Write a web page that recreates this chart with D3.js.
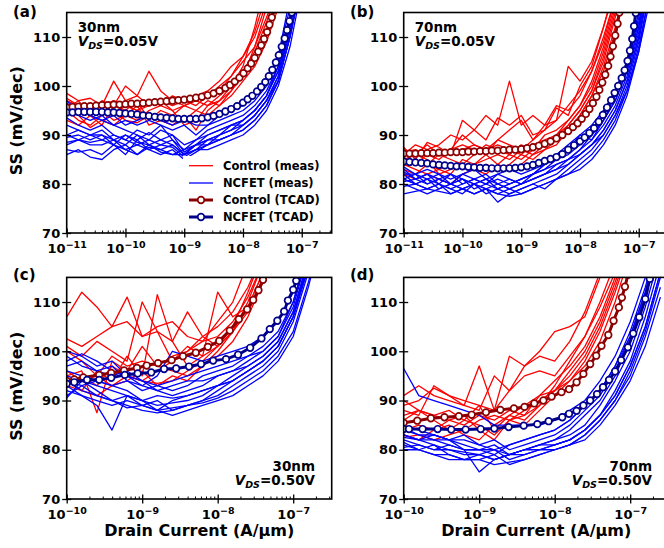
<!DOCTYPE html>
<meta charset="utf-8">
<style>
  body { margin: 0; background: #fff; }
  svg { display: block; font-family: "DejaVu Sans", sans-serif; font-weight: bold; }
  .meas { fill: none; stroke-width: 1.3; stroke-linejoin: round; }
  .tcad { fill: none; stroke-width: 3; }
  .tick text { font-size: 13px; font-family: "DejaVu Sans", sans-serif; font-weight: bold; fill: #000; }
  .tick line { stroke: #000; stroke-width: 1.3; }
</style>
<body></body>
<script src="https://cdn.jsdelivr.net/npm/d3@7"></script>
<script>

// x values are log10(drain current in A/um); SS in mV/dec

// (a) 30nm, Vds = 0.05V
var gridA = [-11, -10.8, -10.6, -10.4, -10.2, -10, -9.8, -9.6, -9.4, -9.2, -9, -8.8, -8.6, -8.4, -8.2, -8, -7.8, -7.6, -7.4, -7.2, -7];
var ctrlMeasA = [
  [98.5, 97, 97.5, 96, 101, 97, 98, 96, 97, 96, 97, 98, 99, 101, 104, 106, 110, 117],
  [97, 96, 95, 97, 96, 100, 98, 103, 99, 97, 96, 97, 98, 100, 102, 105, 108, 114, 120],
  [96, 94, 91.5, 93, 92, 94, 93, 95, 96, 95, 92, 93, 96, 97, 99, 103, 107, 113, 120],
  [95, 93, 92, 94, 95, 93, 92.5, 94, 93, 92, 94, 91, 95, 97, 100, 104, 112, 122],
  [94, 95, 96, 95, 94, 96, 95, 97, 96, 98, 97, 96, 98, 99, 102, 106, 111, 119],
  [93, 92, 94, 92, 96, 95, 97, 93, 95, 94, 96, 95, 94, 96, 98, 101, 104, 109, 116],
  [97.5, 96, 95.5, 96, 97, 96, 95, 96, 97, 95, 96, 97, 96, 98, 100, 103, 106, 111, 118],
  [95.5, 97, 94, 95, 93, 94, 96, 92, 93, 94, 93, 95, 97, 96, 99, 102, 108, 116]
];
var ncMeasA = [
  [97, 95, 94, 93, 92, 93, 92, 93, 92, 91, 92, 90, 92, 93, 94, 95, 97, 100, 106, 118],
  [96, 94, 93, 94, 92, 91, 90, 89, 91, 90, 88, 89, 91, 92, 93, 94, 96, 99, 104, 114, 125],
  [93.5, 92, 91, 92, 90, 89, 91, 90, 92, 89, 87, 89, 90, 91, 92, 93, 95, 98, 103, 112, 124],
  [92, 91, 90, 90, 89, 88, 90, 88, 89, 88, 86, 88, 89, 90, 91, 92, 94, 97, 102, 111, 122],
  [90, 91, 90, 89, 90, 89, 88, 89, 88, 87.5, 85.5, 87, 89, 90, 91, 93, 95, 98, 104, 113, 125],
  [89.5, 90, 89, 90, 88, 90, 88.5, 88, 87, 88, 86, 87, 88, 89, 90, 91, 93, 96, 101, 110, 122],
  [88, 89, 88, 88, 89, 87, 88, 87, 86, 87, 85, 86.5, 88, 89, 90, 91, 93, 96, 101, 110, 121],
  [86, 87, 85.5, 85, 87, 88, 86, 88, 86.5, 86, 86, 87, 87, 88, 89, 90, 92, 95, 100, 108, 120],
  [90, 89, 88.5, 89, 88, 86, 89, 87, 88, 89, 86, 88, 88, 90, 92, 92, 94, 97, 102, 112, 124],
  [96.5, 95, 94, 93, 94, 92, 93, 94, 93, 92, 93, 92, 92, 94, 95, 96, 98, 101, 106, 116],
  [88.5, 89, 90, 91, 89, 90, 89, 90.5, 89, 90, 86.5, 88, 90, 91, 92, 93, 95, 98, 103, 113, 126],
  [87, 86.5, 87, 86, 88, 87, 86, 87.5, 87, 86, 87, 88, 89, 89, 90, 92, 94, 97, 101, 110, 122]
];
var ctrlTcadA = [[-11, 95.6], [-10.9, 95.7], [-10.8, 95.8], [-10.7, 95.9], [-10.6, 95.9], [-10.5, 96], [-10.4, 96.1], [-10.3, 96.1], [-10.2, 96.2], [-10.1, 96.2], [-10, 96.3], [-9.9, 96.4], [-9.8, 96.4], [-9.7, 96.5], [-9.6, 96.6], [-9.5, 96.7], [-9.4, 96.8], [-9.3, 96.9], [-9.2, 97], [-9.1, 97.1], [-9, 97.2], [-8.9, 97.4], [-8.8, 97.6], [-8.7, 97.8], [-8.6, 98.1], [-8.5, 98.5], [-8.4, 99], [-8.3, 99.6], [-8.22, 100.2], [-8.14, 100.9], [-8.06, 101.7], [-7.99, 102.6], [-7.92, 103.6], [-7.86, 104.6], [-7.8, 105.7], [-7.74, 107], [-7.69, 108.3], [-7.64, 109.6], [-7.59, 111], [-7.55, 112.5], [-7.51, 114], [-7.47, 115.6]];
var ncTcadA = [[-11, 94.6], [-10.9, 94.6], [-10.8, 94.7], [-10.7, 94.7], [-10.6, 94.7], [-10.5, 94.7], [-10.4, 94.7], [-10.3, 94.6], [-10.2, 94.6], [-10.1, 94.5], [-10, 94.4], [-9.9, 94.3], [-9.8, 94.2], [-9.7, 94], [-9.6, 93.9], [-9.5, 93.7], [-9.4, 93.6], [-9.3, 93.5], [-9.2, 93.4], [-9.1, 93.3], [-9, 93.3], [-8.9, 93.3], [-8.8, 93.3], [-8.7, 93.4], [-8.6, 93.6], [-8.5, 93.9], [-8.4, 94.3], [-8.3, 94.8], [-8.2, 95.3], [-8.1, 95.9], [-8, 96.6], [-7.92, 97.3], [-7.84, 98], [-7.76, 98.9], [-7.69, 99.8], [-7.62, 100.8], [-7.56, 102], [-7.5, 103.3], [-7.44, 104.8], [-7.39, 106.3], [-7.34, 108], [-7.29, 109.7], [-7.25, 111.4], [-7.21, 113.2], [-7.17, 115], [-7.13, 116.8]];

// (b) 70nm, Vds = 0.05V
var gridB = [-11, -10.8, -10.6, -10.4, -10.2, -10, -9.8, -9.6, -9.4, -9.2, -9, -8.8, -8.6, -8.4, -8.2, -8, -7.8, -7.6, -7.4, -7.2, -7, -6.8];
var ctrlMeasB = [
  [87.5, 85, 88.5, 87.5, 86, 93, 91, 89, 93.5, 92, 94, 90, 91, 95.5, 94, 100, 104, 112, 120],
  [86, 88, 87, 88, 90, 89, 91, 94, 92, 101, 92, 94, 92, 96, 95, 98, 103, 110, 118],
  [85, 84, 86, 85, 87, 90, 88, 87, 89, 91, 93, 89, 92, 93, 104, 101, 105, 112, 121],
  [84, 85, 84, 86, 85, 84, 86, 88, 87, 86, 88, 87, 90, 91, 93, 96, 100, 107, 116],
  [83, 82, 84, 83, 82, 85, 84, 85, 86, 85, 87, 86, 88, 89, 92, 95, 99, 106, 115, 124],
  [86.5, 87, 86, 87, 86, 87, 88, 87, 88, 87, 86, 88, 89, 90, 92, 95, 99, 105, 114, 123],
  [85, 86, 85, 82, 83, 84, 83, 82, 84, 86, 85, 87, 88, 90, 93, 96, 101, 108, 117],
  [84, 83, 82, 83, 84, 83, 84, 86, 84, 83, 84, 86, 87, 88, 91, 94, 98, 104, 112, 122],
  [87, 86, 88, 86, 87, 88, 87, 86, 89, 88, 87, 89, 91, 93, 96, 99, 103, 109, 118],
  [82, 81, 82, 81, 80, 82, 83, 84, 83, 84, 86, 85, 87, 89, 91, 94, 98, 103, 111, 121]
];
var ncMeasB = [
  [83, 81, 82, 80, 82, 81, 80, 81, 80, 79, 80, 81, 82, 83, 84, 86, 88, 91, 95, 101, 110, 122],
  [82, 82, 81, 82, 80, 82, 81, 80, 82, 81, 80, 82, 83, 85, 87, 89, 91, 94, 98, 104, 113, 125],
  [78, 78.5, 79, 78.5, 78, 79, 78, 79, 78, 79, 78, 79, 80, 81, 82, 83, 85, 88, 92, 98, 107, 120],
  [81, 80, 79, 80, 79, 78, 80, 78, 79, 78, 79, 80, 79, 81, 83, 85, 87, 90, 94, 100, 109, 122],
  [83.5, 82, 83, 82, 81, 82, 83, 81, 82, 83, 82, 83, 84, 85, 86, 88, 90, 93, 97, 103, 112, 124],
  [80.5, 81, 80, 81, 80, 79, 80, 79, 76.3, 78, 79, 80, 81, 82, 84, 86, 88, 91, 95, 101, 110, 123],
  [82, 80, 81, 79, 80, 81, 79, 80, 79, 80, 81, 82, 84, 86, 88, 90, 92, 95, 99, 105, 115, 126],
  [81, 82, 80, 81, 82, 80, 81, 82, 80, 81, 80, 81, 82, 83, 85, 87, 89, 92, 96, 102, 111, 124],
  [79.5, 80, 79, 80, 78, 79, 80, 79, 78, 77.5, 78, 79, 80, 81, 82, 84, 86, 89, 93, 99, 108, 120],
  [82.5, 81, 82, 81, 80, 81, 80, 81, 79, 80, 81, 82, 83, 84, 85, 86, 88, 90, 94, 99, 107, 118],
  [80, 79, 78, 79, 80, 79, 78, 79, 80, 79, 80, 81, 82, 84, 85, 87, 90, 93, 98, 104, 114, 126],
  [81, 80, 81, 80, 79, 80, 81, 80, 81, 80, 81, 82, 84, 86, 87, 90, 89, 93, 97, 103, 112, 125]
];
var ctrlTcadB = [[-11, 86.2], [-10.9, 86.2], [-10.8, 86.2], [-10.7, 86.3], [-10.6, 86.3], [-10.5, 86.3], [-10.4, 86.4], [-10.3, 86.4], [-10.2, 86.5], [-10.1, 86.5], [-10, 86.5], [-9.9, 86.6], [-9.8, 86.6], [-9.7, 86.7], [-9.6, 86.7], [-9.5, 86.8], [-9.4, 86.8], [-9.3, 86.9], [-9.2, 87], [-9.1, 87], [-9, 87.1], [-8.9, 87.3], [-8.8, 87.5], [-8.7, 87.8], [-8.6, 88.2], [-8.5, 88.7], [-8.4, 89.3], [-8.3, 90], [-8.2, 90.8], [-8.12, 91.6], [-8.04, 92.4], [-7.97, 93.3], [-7.9, 94.3], [-7.84, 95.3], [-7.78, 96.5], [-7.72, 97.8], [-7.67, 99.2], [-7.62, 100.7], [-7.57, 102.3], [-7.52, 104.1], [-7.48, 106], [-7.44, 108.1], [-7.4, 110.3], [-7.36, 112.7], [-7.33, 115], [-7.3, 117.4]];
var ncTcadB = [[-11, 84.6], [-10.9, 84.5], [-10.8, 84.4], [-10.7, 84.3], [-10.6, 84.2], [-10.5, 84], [-10.4, 83.9], [-10.3, 83.8], [-10.2, 83.7], [-10.1, 83.6], [-10, 83.6], [-9.9, 83.5], [-9.8, 83.4], [-9.7, 83.3], [-9.6, 83.3], [-9.5, 83.2], [-9.4, 83.2], [-9.3, 83.2], [-9.2, 83.2], [-9.1, 83.3], [-9, 83.4], [-8.9, 83.6], [-8.8, 83.9], [-8.7, 84.3], [-8.6, 84.7], [-8.5, 85.1], [-8.4, 85.5], [-8.3, 86.1], [-8.2, 87], [-8.1, 87.9], [-8, 88.7], [-7.92, 89.5], [-7.84, 90.4], [-7.76, 91.4], [-7.68, 92.7], [-7.61, 94.1], [-7.54, 95.6], [-7.47, 97.1], [-7.41, 98.6], [-7.35, 100], [-7.29, 101.6], [-7.24, 103.2], [-7.19, 105.1], [-7.15, 107.2], [-7.11, 109.6], [-7.08, 112.2], [-7.05, 114.9], [-7.02, 117.6]];

// (c) 30nm, Vds = 0.50V
var gridC = [-10, -9.8, -9.6, -9.4, -9.2, -9, -8.8, -8.6, -8.4, -8.2, -8, -7.8, -7.6, -7.4, -7.2, -7, -6.8, -6.6];
var ctrlMeasC = [
  [107, 112, 109, 105, 106, 103, 104, 102, 108, 103, 101, 104, 108, 114, 122],
  [102.5, 101, 103, 105, 111, 103, 105, 106, 103, 102, 106, 110, 118],
  [101, 99, 102, 100, 98, 110, 104, 98, 101, 99, 112, 107, 109, 116],
  [95, 96, 87.5, 98, 96, 101, 97, 99, 100, 103, 105, 108, 113, 120],
  [94, 92, 96, 94, 99, 95, 111.5, 102, 97, 99, 101, 104, 109, 116],
  [93, 95, 93, 97, 95, 94, 96, 98, 100, 102, 103, 106, 111, 118],
  [96, 94, 95, 99, 97, 98, 97, 96, 95, 97, 100, 104, 110, 118],
  [100, 98, 95, 93, 94, 96, 93, 95, 94, 97, 99, 102, 107, 114, 122],
  [93, 92, 91, 93, 95, 94, 93.5, 94, 96, 98, 101, 105, 112, 120]
];
var ncMeasC = [
  [100, 99, 97, 98, 95, 93, 95, 100, 99, 98, 99, 100, 101, 103, 106, 112, 122],
  [98, 99.5, 98, 96, 95, 94, 93, 92, 93, 95, 96, 97, 99, 101, 104, 110, 120],
  [97, 98, 96, 95, 96, 94, 92, 93, 94, 94, 95, 96, 97, 99, 102, 108, 118],
  [94, 92, 91, 90, 88.5, 89, 90, 88, 89, 90, 91, 93, 95, 97, 100, 106, 116],
  [93, 91, 89, 84, 91, 89, 88, 88.5, 89, 90, 92, 94, 96, 98, 101, 107, 117],
  [91, 93, 91, 90, 91, 90, 89, 89.5, 90, 91, 93, 95, 97, 99, 102, 108, 119],
  [94, 93, 94, 93, 92, 90, 88, 90, 91, 92, 93, 94, 96, 98, 101, 107, 118],
  [99, 97, 96, 97, 94, 92, 93, 94, 95, 96, 97, 98, 99, 100, 103, 109, 120],
  [90.5, 94, 92, 90, 89, 88, 87.5, 88, 89, 89.5, 90.5, 92, 94, 96, 99, 104, 114, 125],
  [95, 94, 93, 92, 91, 90, 91, 90.5, 91, 92, 93, 94, 96, 98, 101, 107, 117],
  [96, 95, 94, 93, 94, 93, 92, 91, 92, 93, 95, 96, 98, 100, 103, 110, 121],
  [92, 91, 90, 89, 90, 89, 88, 87, 88, 89, 90, 91, 93, 95, 98, 103, 113, 125]
];
var ctrlTcadC = [[-10, 94], [-9.9, 94.3], [-9.78, 94.7], [-9.57, 95.2], [-9.41, 95.6], [-9.24, 96.1], [-9.07, 96.6], [-8.94, 97.1], [-8.79, 97.6], [-8.61, 98.2], [-8.46, 99], [-8.29, 99.7], [-8.13, 100.9], [-7.98, 102.1], [-7.84, 104.2], [-7.72, 106.5], [-7.61, 108.5], [-7.53, 110.4], [-7.46, 112.4], [-7.4, 114.5], [-7.35, 116.5]];
var ncTcadC = [[-10, 93.4], [-9.9, 93.7], [-9.73, 94.2], [-9.57, 94.2], [-9.41, 94.6], [-9.23, 95.2], [-9.06, 95.5], [-8.88, 95.7], [-8.71, 96.4], [-8.55, 96.5], [-8.38, 96.9], [-8.22, 97.4], [-8.06, 98.1], [-7.89, 98.4], [-7.73, 99.3], [-7.57, 100.7], [-7.42, 102.6], [-7.31, 104.5], [-7.21, 106.2], [-7.12, 108.1], [-7.07, 110.3], [-7, 112.5], [-6.96, 114.3], [-6.92, 116.5]];

// (d) 70nm, Vds = 0.50V
var gridD = [-10, -9.8, -9.6, -9.4, -9.2, -9, -8.8, -8.6, -8.4, -8.2, -8, -7.8, -7.6, -7.4, -7.2, -7, -6.8, -6.6];
var ctrlMeasD = [
  [91, 93, 91, 90, 89, 97, 88, 99, 97, 100, 104, 105, 107, 115, 122],
  [89, 90, 92.5, 91, 89, 88, 95, 92, 97, 99, 98, 102, 108, 116],
  [88, 87, 93, 91, 90, 89, 88, 92, 95, 96, 95, 99, 103, 110, 118],
  [87, 88, 87, 86, 85, 87, 86, 88, 87, 91, 94, 97, 101, 107, 115, 123],
  [86, 88, 86, 84, 86, 85, 83, 86, 88, 90, 92, 95, 99, 105, 113, 122],
  [84, 85, 84, 86, 87, 84, 82, 86, 85, 88, 91, 94, 98, 104, 112, 121],
  [82.5, 83, 82, 83, 84, 86, 87, 86, 87, 89, 92, 96, 100, 106, 114, 122],
  [90, 88, 87, 88, 86, 89, 84, 87, 86, 89, 93, 98, 103, 109, 116],
  [83, 82, 84, 85, 83, 82, 85, 87, 89, 91, 92, 94, 97, 102, 110, 120]
];
var ncMeasD = [
  [96.5, 91, 90, 89, 88, 87, 85, 85, 85, 85, 86, 88, 90, 94, 99, 106, 115, 126],
  [85, 84, 83, 82, 81, 80, 79, 81, 82, 83, 84, 86, 89, 92, 97, 104, 113, 124],
  [84, 83, 82, 82, 80, 75.5, 78, 79, 80, 81, 82, 84, 87, 90, 95, 102, 111, 122],
  [83, 82, 81, 80, 79.5, 79, 78, 79, 80, 81, 82, 83, 85, 89, 94, 100, 109, 120],
  [82, 81, 80, 80, 79, 79, 80, 78, 79, 80, 81, 82, 84, 87, 92, 98, 107, 118],
  [81, 80, 81, 79, 78, 78, 79, 77, 78, 79, 80, 81, 83, 86, 90, 96, 104, 115],
  [80.5, 81, 80, 81, 80, 80, 80, 79, 80, 81, 81, 82, 84, 87, 91, 97, 105, 116],
  [84.5, 83, 83, 82, 82, 81, 82, 80, 81, 82, 83, 85, 88, 91, 96, 103, 112, 124],
  [82.5, 82, 82, 81, 80, 80, 81, 79, 79, 80, 80, 81, 82, 85, 89, 94, 101, 111],
  [81.5, 80, 79, 79, 78, 78, 77, 77.5, 78, 79, 80, 81, 83, 86, 90, 95, 103, 113],
  [83, 82, 83, 82, 83, 81, 80, 81, 82, 83, 84, 86, 89, 92, 97, 103, 112, 123],
  [80, 80, 79, 78, 78, 79, 78, 79, 80, 80, 81, 82, 84, 87, 91, 97, 105, 116]
];
var ctrlTcadD = [[-10, 85.5], [-9.82, 85.9], [-9.64, 86.4], [-9.46, 86.6], [-9.27, 86.8], [-9.1, 87.1], [-8.91, 87.6], [-8.72, 88.1], [-8.54, 88.4], [-8.4, 88.7], [-8.27, 89.4], [-8.15, 90], [-8.04, 90.8], [-7.91, 91.7], [-7.81, 92.3], [-7.71, 93.7], [-7.62, 95.4], [-7.53, 97.4], [-7.45, 99.1], [-7.38, 101.1], [-7.29, 103.3], [-7.22, 106.2], [-7.15, 108.9], [-7.11, 110.9], [-7.07, 113.1], [-7.03, 115.5]];
var ncTcadD = [[-10, 84.2], [-9.93, 84.2], [-9.75, 84.2], [-9.55, 84.2], [-9.37, 84.1], [-9.18, 84.1], [-8.98, 84.2], [-8.8, 84.3], [-8.61, 84.6], [-8.41, 84.9], [-8.23, 85.2], [-8.08, 85.8], [-7.9, 86.6], [-7.81, 87.3], [-7.71, 87.9], [-7.62, 89], [-7.53, 90], [-7.44, 91.3], [-7.36, 92.7], [-7.28, 94.2], [-7.2, 95.9], [-7.12, 98.2], [-7.03, 100.8], [-6.96, 103.6], [-6.88, 106.9], [-6.8, 110.6], [-6.74, 114.7], [-6.7, 117]];

var yTicks = [70, 80, 90, 100, 110];
var legendLabels = ["Control (meas)", "NCFET (meas)", "Control (TCAD)", "NCFET (TCAD)"];

var red = "#ff0000", blue = "#0000ff", darkRed = "#8b0000", darkBlue = "#00008b";

var svg = d3.select("body").append("svg")
    .attr("width", 664)
    .attr("height", 548);

var panels = [
  {key: "a", label: "(a)", lx: 13, ly: 17, left: 66.7, top: 12.5, h: 220.5, lo: -11, grid: gridA,
   red: ctrlMeasA, blue: ncMeasA, ctrl: ctrlTcadA, nc: ncTcadA, size: "30nm", vds: "=0.05V", corner: "tl"},
  {key: "b", label: "(b)", lx: 350, ly: 17, left: 403.7, top: 12.5, h: 220.5, lo: -11, grid: gridB,
   red: ctrlMeasB, blue: ncMeasB, ctrl: ctrlTcadB, nc: ncTcadB, size: "70nm", vds: "=0.05V", corner: "tl"},
  {key: "c", label: "(c)", lx: 13, ly: 280, left: 66.7, top: 277.4, h: 221.6, lo: -10, grid: gridC,
   red: ctrlMeasC, blue: ncMeasC, ctrl: ctrlTcadC, nc: ncTcadC, size: "30nm", vds: "=0.50V", corner: "br"},
  {key: "d", label: "(d)", lx: 350, ly: 280, left: 403.7, top: 277.4, h: 221.6, lo: -10, grid: gridD,
   red: ctrlMeasD, blue: ncMeasD, ctrl: ctrlTcadD, nc: ncTcadD, size: "70nm", vds: "=0.50V", corner: "br"}
];

var w = 265;
var hiExp = -6.49;

panels.forEach(function(p) {
  var g = svg.append("g").attr("transform", "translate(" + p.left + "," + p.top + ")");

  var x = d3.scaleLog()
      .domain([Math.pow(10, p.lo), Math.pow(10, hiExp)])
      .range([0, w]);
  var y = d3.scaleLinear()
      .domain([70, 115])
      .range([p.h, 0]);

  g.append("clipPath").attr("id", "clip" + p.key)
    .append("rect").attr("width", w).attr("height", p.h);

  var plot = g.append("g").attr("clip-path", "url(#clip" + p.key + ")");

  var line = d3.line()
      .x(function(d) { return x(Math.pow(10, d[0])); })
      .y(function(d) { return y(d[1]); });

  function pairs(vals) {
    return vals.map(function(v, i) { return [p.grid[i], v]; });
  }

  p.red.forEach(function(c) {
    plot.append("path").attr("class", "meas").attr("stroke", red).attr("d", line(pairs(c)));
  });
  p.blue.forEach(function(c) {
    plot.append("path").attr("class", "meas").attr("stroke", blue).attr("d", line(pairs(c)));
  });

  [[p.ctrl, darkRed], [p.nc, darkBlue]].forEach(function(s) {
    plot.append("path").attr("class", "tcad").attr("stroke", s[1]).attr("d", line(s[0]));
    plot.selectAll(null).data(s[0]).enter().append("circle")
      .attr("cx", function(d) { return x(Math.pow(10, d[0])); })
      .attr("cy", function(d) { return y(d[1]); })
      .attr("r", 3.3)
      .attr("fill", "#fff")
      .attr("stroke", s[1])
      .attr("stroke-width", 1.7);
  });

  // frame
  g.append("rect").attr("width", w).attr("height", p.h)
    .attr("fill", "none").attr("stroke", "#000").attr("stroke-width", 1.6);

  // y axis
  var ya = g.append("g").call(d3.axisLeft(y).tickValues(yTicks).tickSize(4.5).tickPadding(2));
  ya.select(".domain").remove();
  ya.selectAll(".tick line").attr("x1", 4.5);

  // x axis, majors
  var majors = [], minors = [];
  for (var e = p.lo; e <= -7; e++) {
    majors.push(Math.pow(10, e));
    for (var m = 2; m <= 9; m++) {
      var v = m * Math.pow(10, e);
      if (v < Math.pow(10, hiExp)) minors.push(v);
    }
  }
  var xa = g.append("g").attr("transform", "translate(0," + p.h + ")")
    .call(d3.axisBottom(x).tickValues(majors).tickSize(4.5).tickFormat(function() { return ""; }));
  xa.select(".domain").remove();
  xa.selectAll(".tick line").attr("y1", -4.5);
  xa.selectAll(".tick text").attr("y", 20).attr("dy", 0).each(function(d) {
    var t = d3.select(this);
    t.append("tspan").text("10");
    t.append("tspan").attr("dy", -5.5).style("font-size", "9.5px")
      .text("\u2212" + Math.abs(Math.round(Math.log10(d))));
  });

  var xm = g.append("g").attr("transform", "translate(0," + p.h + ")")
    .call(d3.axisBottom(x).tickValues(minors).tickSize(-2.5).tickFormat(function() { return ""; }));
  xm.select(".domain").remove();
  xm.selectAll(".tick line").style("stroke-width", 1);

  // panel label
  svg.append("text").attr("x", p.lx).attr("y", p.ly)
    .style("font-size", "15px").text(p.label);

  // size / Vds note
  var nx, ny, anchor;
  if (p.corner === "tl") { nx = 11; ny = 19.2; anchor = "start"; }
  else { nx = w - 16.7; ny = p.h - 28.3; anchor = "end"; }
  g.append("text").attr("x", nx).attr("y", ny).attr("text-anchor", anchor)
    .style("font-size", "13.5px").text(p.size);
  var vt = g.append("text").attr("x", nx).attr("y", ny + 14.5).attr("text-anchor", anchor)
    .style("font-size", "13.5px");
  vt.append("tspan").style("font-style", "italic").text("V");
  vt.append("tspan").style("font-style", "italic").style("font-size", "9.5px").attr("dy", 3).text("DS");
  vt.append("tspan").attr("dy", -3).text(p.vds);

  // axis titles
  if (p.key === "a" || p.key === "c") {
    svg.append("text")
      .attr("transform", "translate(22," + (p.top + p.h / 2 - 2) + ") rotate(-90)")
      .attr("text-anchor", "middle")
      .style("font-size", "16px")
      .text("SS (mV/dec)");
  }
  if (p.key === "c" || p.key === "d") {
    svg.append("text")
      .attr("x", p.left + w / 2).attr("y", 536)
      .attr("text-anchor", "middle")
      .style("font-size", "16px")
      .text("Drain Current (A/\u03bcm)");
  }
});

// legend in panel (a)
var leg = svg.append("g");
leg.append("rect").attr("x", 183).attr("y", 156).attr("width", 147).attr("height", 70).attr("fill", "#fff");
var legRows = [165.7, 183, 200, 217];
var legColors = [red, blue, darkRed, darkBlue];
legendLabels.forEach(function(lbl, i) {
  var yy = legRows[i];
  leg.append("line").attr("x1", 189).attr("x2", 213).attr("y1", yy).attr("y2", yy)
    .attr("stroke", legColors[i]).attr("stroke-width", i < 2 ? 1.3 : 3);
  if (i >= 2) {
    leg.append("circle").attr("cx", 201).attr("cy", yy).attr("r", 3.3)
      .attr("fill", "#fff").attr("stroke", legColors[i]).attr("stroke-width", 1.7);
  }
  leg.append("text").attr("x", 223).attr("y", yy + 4.2)
    .style("font-size", "11.5px").text(lbl);
});

</script>
